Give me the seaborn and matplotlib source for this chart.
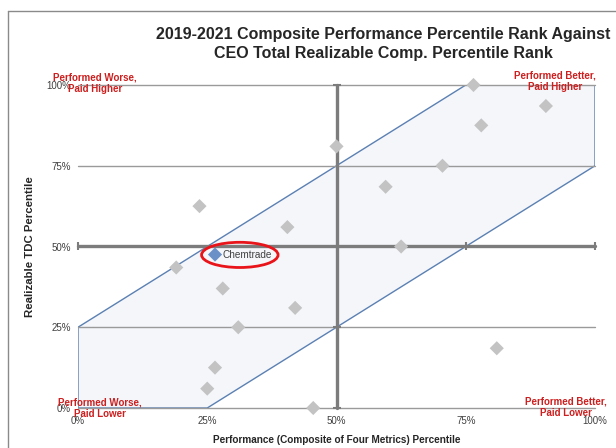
#!/usr/bin/env python3
"""Composite performance percentile vs CEO realizable pay percentile."""
import matplotlib.pyplot as plt
import pandas as pd
import seaborn as sns
from matplotlib.lines import Line2D
from matplotlib.patches import Ellipse, Polygon

# peer companies: (performance percentile, realizable TDC percentile)
peer_perf = [19, 23.5, 28, 40.5, 31, 42, 26.5, 25, 45.5, 50, 59.5, 62.5, 70.5, 76.5, 78, 90.5, 81]
peer_pay = [43.5, 62.5, 37, 56, 25, 31, 12.5, 6, 0, 81, 68.5, 50, 75, 100, 87.5, 93.5, 18.5]

company_name = "Chemtrade"
company_perf = 26.5
company_pay = 47.5

# alignment band corners
band_x = [0, 25, 100, 100, 75, 0]
band_y = [0, 0, 75, 100, 100, 25]

ticks = [0, 25, 50, 75, 100]
tick_labels = ["0%", "25%", "50%", "75%", "100%"]

quadrant_labels = [
    ("Performed Worse,\nPaid Higher", 95, 83),
    ("Performed Better,\nPaid Higher", 555, 81),
    ("Performed Worse,\nPaid Lower", 100, 408),
    ("Performed Better,\nPaid Lower", 566, 407),
]

sns.set_theme(style="white")
plt.rcParams["font.family"] = ["Liberation Sans", "DejaVu Sans"]

W, H = 616, 448
fig = plt.figure(figsize=(W / 100, H / 100), dpi=100)
ax = fig.add_axes([78 / W, (H - 408) / H, 517 / W, 323 / H])
ax.set_xlim(0, 100)
ax.set_ylim(0, 100)
for s in ax.spines.values():
    s.set_visible(False)

# band
ax.add_patch(Polygon(list(zip(band_x, band_y)), closed=True,
                     facecolor="#f4f6fa", edgecolor="#5b80b2", lw=1.0, zorder=1))

# grid
for yv in [0, 25, 75, 100]:
    ax.plot([0, 100], [yv, yv], color="#9a9a9a", lw=1.0, zorder=2, clip_on=False)
ax.plot([0, 100], [50, 50], color="#7c7c7c", lw=2.4, zorder=2, clip_on=False)
ax.plot([50, 50], [0, 100], color="#7c7c7c", lw=2.4, zorder=2, clip_on=False)
ax.plot([0, 75, 100], [50, 50, 50], ls="none", marker="|", ms=6, mew=1.5,
        color="#7c7c7c", zorder=2, clip_on=False)
ax.plot([50, 50, 50], [0, 25, 100], ls="none", marker="_", ms=6, mew=1.5,
        color="#7c7c7c", zorder=2, clip_on=False)

peers = pd.DataFrame({"perf": peer_perf, "pay": peer_pay})
sns.scatterplot(data=peers, x="perf", y="pay", marker="D", s=52, color="#c3c3c3",
                edgecolor="none", ax=ax, zorder=3, clip_on=False)
sns.scatterplot(x=[company_perf], y=[company_pay], marker="D", s=52, color="#6b90c8",
                edgecolor="none", ax=ax, zorder=4)
ax.text(company_perf + 1.5, company_pay, company_name, fontsize=7.2, color="#404040",
        va="center", ha="left", zorder=5)
ax.add_patch(Ellipse((31.3, 47.4), 14.8, 7.8, fill=False, edgecolor="#e8141a",
                     lw=2.0, zorder=5))

ax.set_xticks(ticks)
ax.set_xticklabels(tick_labels)
ax.set_yticks(ticks)
ax.set_yticklabels(tick_labels)
ax.tick_params(axis="both", length=0, labelsize=7, labelcolor="#404040")
ax.tick_params(axis="y", pad=5)
ax.tick_params(axis="x", pad=6)
ax.set_xlabel("Performance (Composite of Four Metrics) Percentile", fontsize=7.2,
              fontweight="bold", labelpad=6)
ax.set_ylabel("Realizable TDC Percentile", fontsize=8.2, fontweight="bold", labelpad=8)

for txt, px, py in quadrant_labels:
    fig.text(px / W, 1 - py / H, txt, color="#cc1f1f", fontsize=7, fontweight="bold",
             ha="center", va="center", linespacing=1.15)

fig.text(383 / W, 1 - 44 / H,
         "2019-2021 Composite Performance Percentile Rank Against\n"
         "CEO Total Realizable Comp. Percentile Rank",
         ha="center", va="center", fontsize=11.5, fontweight="bold", linespacing=1.3)

# outer frame
fig.add_artist(Line2D([8 / W, 1], [1 - 11 / H, 1 - 11 / H], color="#8a8a8a", lw=1.0))
fig.add_artist(Line2D([8 / W, 8 / W], [0, 1 - 11 / H], color="#8a8a8a", lw=1.0))

fig.savefig("out.png", dpi=100)
